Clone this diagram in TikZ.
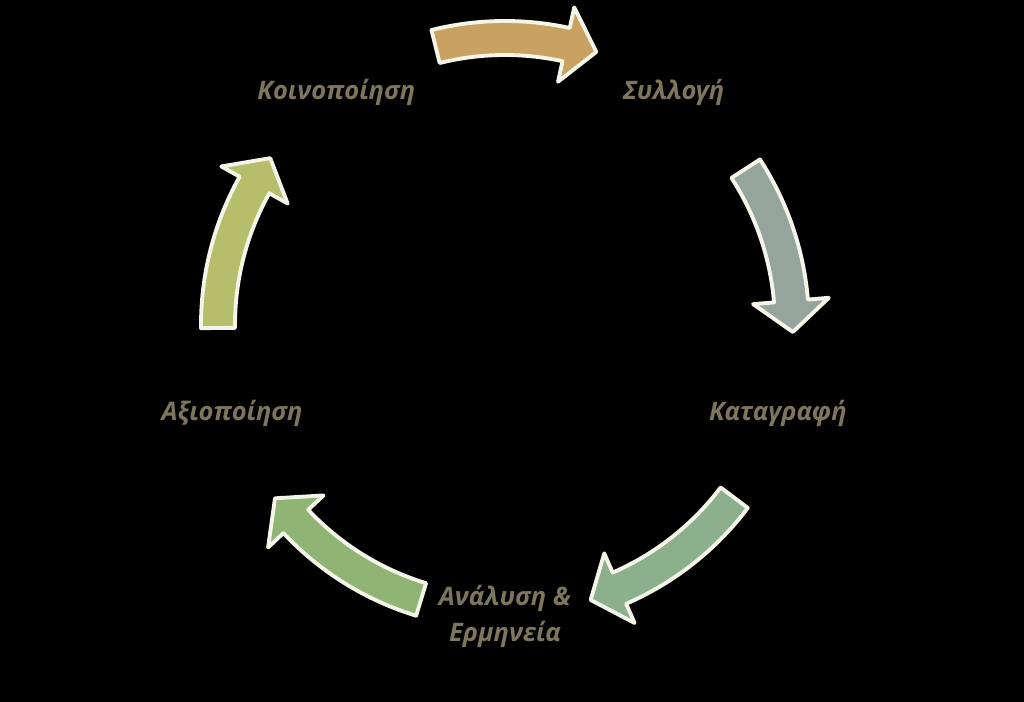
\documentclass[tikz,border=0pt]{standalone}
\usepackage{fontspec}
\setmainfont{Open Sans}
\usepackage{tikz}
\usetikzlibrary{backgrounds,calc}
\definecolor{lbltxt}{RGB}{125,118,92}
\definecolor{rim}{RGB}{244,244,232}
\definecolor{tan}{RGB}{201,161,96}
\definecolor{sage}{RGB}{150,165,156}
\definecolor{leaf}{RGB}{140,176,140}
\definecolor{moss}{RGB}{143,180,115}
\definecolor{olive}{RGB}{181,190,106}
\tikzset{
  lbl/.style={text=lbltxt, font=\fontsize{14.5}{20.5}\selectfont\bfseries\itshape, align=center},
  arrowbox/.style={draw=rim, line width=2.2pt, line join=round}
}
\newcommand{\cyclearrow}[3]{%
  \pgfmathsetmacro{\ba}{#2+6.2}%
  \filldraw[arrowbox, fill=#3] (#1:6.08) arc[start angle=#1, end angle=\ba, radius=6.08]
    -- (\ba:6.5) -- (#2:5.76) -- (\ba:4.98) -- (\ba:5.4)
    arc[start angle=\ba, end angle=#1, radius=5.4] -- cycle;}

\begin{document}
\begin{tikzpicture}
\fill[black] (-10.1,-7.54) rectangle (10.38,6.5);
\useasboundingbox (-10.1,-7.54) rectangle (10.38,6.5);

\node[lbl] (syll) at (54:5.74) {Συλλογή};
\node[lbl] (katag) at (-18:5.74) {Καταγραφή};
\node[lbl] (anal) at ($(-90:5.74)+(0,-0.08)$) {Ανάλυση \&\\Ερμηνεία};
\node[lbl] (axiop) at (198:5.74) {Αξιοποίηση};
\node[lbl] (koin) at (126:5.74) {Κοινοποίηση};

\cyclearrow{104}{71.5}{tan}
\cyclearrow{33}{-1.4}{sage}
\cyclearrow{-37}{-72.7}{leaf}
\cyclearrow{-107}{-143}{moss}
\cyclearrow{180.6}{144.6}{olive}
\end{tikzpicture}
\end{document}
